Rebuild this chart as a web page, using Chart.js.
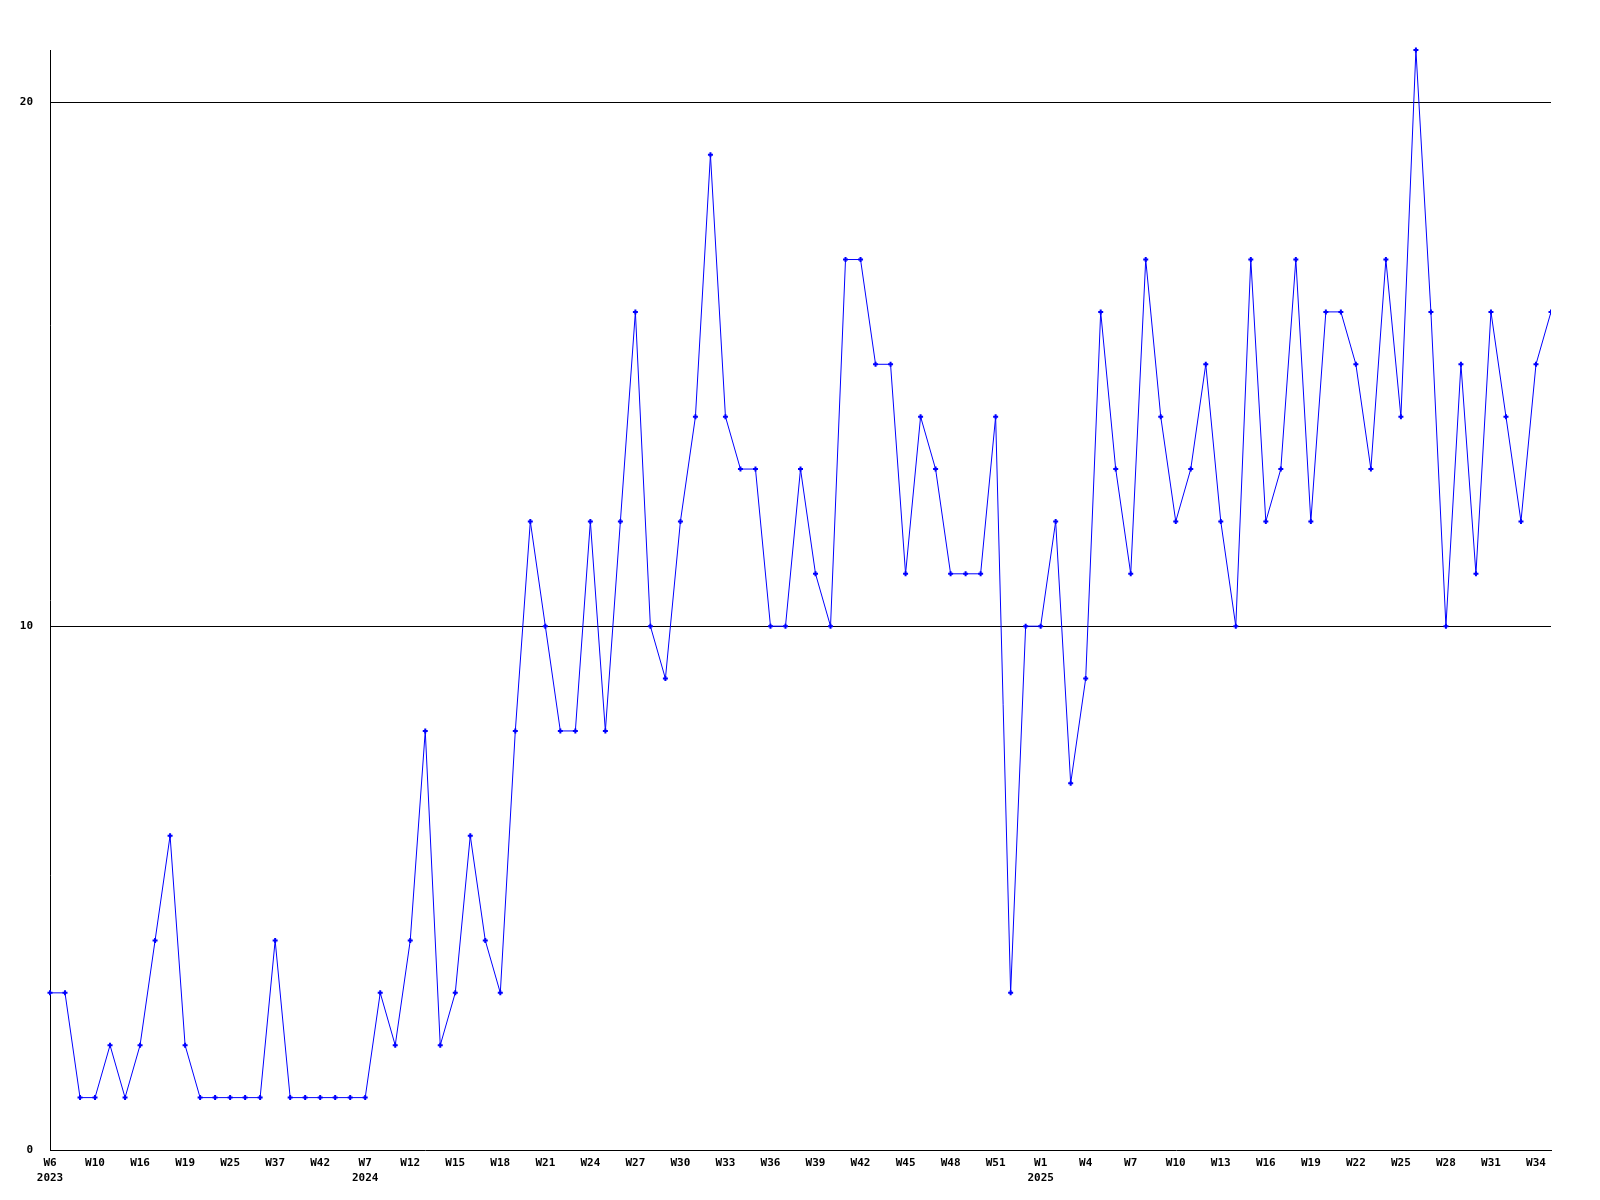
<!DOCTYPE html>
<html>
<head>
<meta charset="utf-8">
<title>weekly</title>
<script src="https://cdn.jsdelivr.net/npm/chart.js@4/dist/chart.umd.min.js"></script>
<style>
    body { margin: 0; background: #fff; }
    canvas { display: block; }
</style>
</head>
<body>
<canvas id="chart1" width="1600" height="1200"></canvas>
<script>

// weekly counts, one value per point
const counts = [
    3, 3, 1, 1, 2, 1, 2, 4, 6, 2,
    1, 1, 1, 1, 1, 4, 1, 1, 1, 1,
    1, 1, 3, 2, 4, 8, 2, 3, 6, 4,
    3, 8, 12, 10, 8, 8, 12, 8, 12, 16,
    10, 9, 12, 14, 19, 14, 13, 13, 10, 10,
    13, 11, 10, 17, 17, 15, 15, 11, 14, 13,
    11, 11, 11, 14, 3, 10, 10, 12, 7, 9,
    16, 13, 11, 17, 14, 12, 13, 15, 12, 10,
    17, 12, 13, 17, 12, 16, 16, 15, 13, 17,
    14, 21, 16, 10, 15, 11, 16, 14, 12, 15,
    16
];

// label on every third point
const tickLabels = [
    'W6', 'W10', 'W16', 'W19', 'W25', 'W37', 'W42', 'W7', 'W12', 'W15',
    'W18', 'W21', 'W24', 'W27', 'W30', 'W33', 'W36', 'W39', 'W42', 'W45',
    'W48', 'W51', 'W1', 'W4', 'W7', 'W10', 'W13', 'W16', 'W19', 'W22',
    'W25', 'W28', 'W31', 'W34'
];
const tickEvery = 3;

// year shown under the label at these points
const yearIndex = [0, 21, 66];
const yearText = ['2023', '2024', '2025'];

const yTicks = [0, 10, 20];
const yMax = 21;

const font = {
    family: "'DejaVu Sans Mono', 'Liberation Mono', monospace",
    size: 11,
    weight: 'bold',
    lineHeight: 1.4,
};

const data_counts = {
    labels: counts.map((v, i) => i),
    datasets: [{
        data: counts,
        borderColor: '#0000ff',
        backgroundColor: '#0000ff',
        borderWidth: 1,
        pointStyle: 'cross',
        pointRadius: 2.5,
        pointBorderWidth: 2,
        pointBorderColor: '#0000ff',
        tension: 0,
        fill: false,
        clip: { left: 5, top: 5, right: 0, bottom: 5 },
    }],
};

const config_counts = {
    type: 'line',
    data: data_counts,
    options: {
        responsive: false,
        animation: false,
        layout: {
            padding: { top: 50, right: 49, left: 0, bottom: 0 },
        },
        plugins: {
            legend: { display: false },
            tooltip: { enabled: false },
        },
        scales: {
            x: {
                offset: false,
                afterFit: function (axis) { axis.height = 50; },
                grid: { display: false, drawTicks: false },
                border: { display: true, color: '#000', width: 1 },
                ticks: {
                    autoSkip: false,
                    maxRotation: 0,
                    padding: 5,
                    color: '#000',
                    font: font,
                    callback: function (value, index) {
                        if (index % tickEvery !== 0) return '';
                        const label = tickLabels[index / tickEvery];
                        const y = yearIndex.indexOf(index);
                        return y >= 0 ? [label, yearText[y]] : label;
                    },
                },
            },
            y: {
                min: 0,
                max: yMax,
                afterFit: function (axis) { axis.width = 50; },
                afterBuildTicks: function (axis) {
                    axis.ticks = yTicks.map(v => ({ value: v }));
                },
                grid: {
                    drawTicks: false,
                    lineWidth: 1,
                    color: function (ctx) {
                        return ctx.tick && ctx.tick.value === 0 ? 'rgba(0,0,0,0)' : '#000';
                    },
                },
                border: { display: true, color: '#000', width: 1 },
                ticks: {
                    padding: 17,
                    color: '#000',
                    font: font,
                },
            },
        },
    },
};

const ctx_counts = document.getElementById('chart1').getContext('2d');
const chart_counts = new Chart(ctx_counts, config_counts);
</script>
</body>
</html>
